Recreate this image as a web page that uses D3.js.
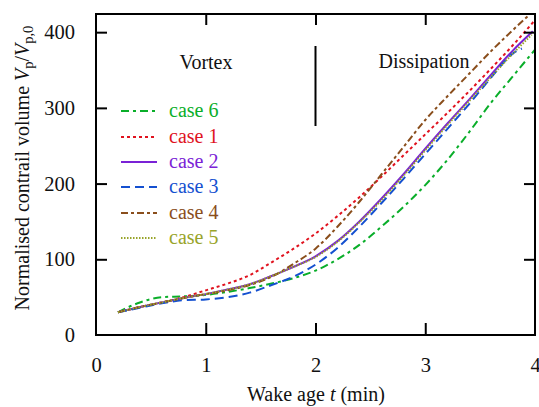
<!DOCTYPE html>
<html><head><meta charset="utf-8">
<script src="https://cdn.jsdelivr.net/npm/d3@7/dist/d3.min.js"></script>
<style>
body{margin:0;background:#fff;}
text{font-family:"Liberation Serif","DejaVu Serif",serif;}
</style></head>
<body><svg id="c" width="539" height="407"></svg>
<script>
const times = [0.2,0.4,0.6,0.8,1.0,1.2,1.4,1.6,1.8,2.0,2.2,2.4,2.6,2.8,3.0,3.2,3.4,3.6,3.8,4.0];
const case6 = [30,43,50,51,53,57,62,68,75,85,100,119,143,169,198,231,268,307,342,377];
const case1 = [30,37,43,50,59,68,79,96,114,134,157,182,209,237,265,293,322,352,383,416];
const case2 = [30,37,43,49,54,60,67,78,90,104,124,150,180,212,246,279,311,344,376,404];
const case3 = [30,36,42,46,47,50,56,66,77,93,115,143,174,206,239,272,305,340,372,388];
const case4 = [30,37,43,49,54,59,66,77,94,114,143,176,212,248,284,315,345,375,403,430];
const case5 = [30,37,43,49,54,60,67,78,90,103,123,149,178,210,244,277,309,341,372,401];
const endTime = {case6:4.0, case1:4.0, case2:3.98, case3:3.88, case4:4.0, case5:3.97};
const seriesNames = ["case 6","case 1","case 2","case 3","case 4","case 5"];
const seriesValues = [case6,case1,case2,case3,case4,case5];
const seriesKeys = ["case6","case1","case2","case3","case4","case5"];
const colors = ["#0aae2a","#e0121e","#7a22d6","#1450d0","#8a4e1c","#98a42a"];
const dashes = ["8,4,3,4","3,3",null,"9,5","7,3,3,3","1.5,1.5"];
const xTicks = [0,1,2,3,4];
const yTicks = [0,100,200,300,400];

const svg = d3.select("#c");
const L=96,R=535,T=14,B=335;
const x = d3.scaleLinear().domain([0,4]).range([L,R]);
const y = d3.scaleLinear().domain([0,424]).range([B,T]);

svg.append("clipPath").attr("id","clip").append("rect")
  .attr("x",L).attr("y",T).attr("width",R-L).attr("height",B-T);

const line = d3.line().x(d=>x(d[0])).y(d=>y(d[1])).curve(d3.curveMonotoneX);
seriesValues.forEach((vals,i)=>{
  const end = endTime[seriesKeys[i]];
  const all = times.map((t,j)=>[t,vals[j]]);
  let pts = all.filter(p=>p[0]<=end+1e-9);
  if (pts[pts.length-1][0] < end) {
    const p = pts[pts.length-1], q = all[pts.length];
    const f=(end-p[0])/(q[0]-p[0]);
    pts.push([end, p[1]+f*(q[1]-p[1])]);
  }
  const path = svg.append("path").datum(pts).attr("d",line)
    .attr("fill","none").attr("stroke",colors[i]).attr("stroke-width",2)
    .attr("clip-path","url(#clip)");
  if (dashes[i]) path.attr("stroke-dasharray",dashes[i]);
});

// frame
svg.append("rect").attr("x",L).attr("y",T).attr("width",R-L).attr("height",B-T)
  .attr("fill","none").attr("stroke","#000").attr("stroke-width",2);

// axes with inward ticks
const xb = svg.append("g").attr("transform",`translate(0,${B})`)
  .call(d3.axisBottom(x).tickValues(xTicks).tickFormat(d3.format("d")).tickSizeInner(-12).tickSizeOuter(0).tickPadding(22));
const xt = svg.append("g").attr("transform",`translate(0,${T})`)
  .call(d3.axisTop(x).tickValues([1,2,3]).tickSizeInner(-11).tickSizeOuter(0).tickFormat(""));
const yl = svg.append("g").attr("transform",`translate(${L},0)`)
  .call(d3.axisLeft(y).tickValues(yTicks).tickFormat(d3.format("d")).tickSizeInner(-11).tickSizeOuter(0).tickPadding(21));
const yr = svg.append("g").attr("transform",`translate(${R},0)`)
  .call(d3.axisRight(y).tickValues([100,200,300,400]).tickSizeInner(-11).tickSizeOuter(0).tickFormat(""));
[xb,xt,yl,yr].forEach(g=>{
  g.select(".domain").remove();
  g.selectAll(".tick line").attr("stroke","#000").attr("stroke-width",2);
  g.selectAll("text").attr("font-family","Liberation Serif").attr("font-size",20.5).attr("fill","#111");
});
xb.selectAll(".tick").filter(d=>d===0||d===4).select("line").remove();
yl.selectAll(".tick").filter(d=>d===0).select("line").remove();

// divider and region labels
svg.append("line").attr("x1",x(2)).attr("x2",x(2)).attr("y1",46).attr("y2",126)
  .attr("stroke","#000").attr("stroke-width",2);
svg.append("text").attr("x",206).attr("y",69).attr("text-anchor","middle")
  .attr("font-size",20).attr("fill","#111").text("Vortex");
svg.append("text").attr("x",424).attr("y",68).attr("text-anchor","middle")
  .attr("font-size",20).attr("fill","#111").text("Dissipation");

// legend
const legY = [111,137,162,187,213,238];
seriesNames.forEach((n,i)=>{
  const l = svg.append("line").attr("x1",121).attr("x2",157).attr("y1",legY[i]).attr("y2",legY[i])
    .attr("stroke",colors[i]).attr("stroke-width",2);
  if (dashes[i]) l.attr("stroke-dasharray",dashes[i]);
  svg.append("text").attr("x",169).attr("y",legY[i]+6).attr("font-size",20)
    .attr("fill",colors[i]).text(n);
});

// axis titles
const xl = svg.append("text").attr("x",316).attr("y",401).attr("text-anchor","middle")
  .attr("font-size",20).attr("fill","#111");
xl.append("tspan").text("Wake age ");
xl.append("tspan").attr("font-style","italic").text("t");
xl.append("tspan").text(" (min)");

const ylab = svg.append("text").attr("transform","translate(29,168) rotate(-90)")
  .attr("text-anchor","middle").attr("font-size",20).attr("fill","#111");
ylab.append("tspan").text("Normalised contrail volume ");
ylab.append("tspan").attr("font-style","italic").text("V");
ylab.append("tspan").attr("font-size",14.5).attr("dy",4).text("p");
ylab.append("tspan").attr("dy",-4).text("/");
ylab.append("tspan").attr("font-style","italic").text("V");
ylab.append("tspan").attr("font-size",14.5).attr("dy",4).text("p,0");
</script></body></html>
